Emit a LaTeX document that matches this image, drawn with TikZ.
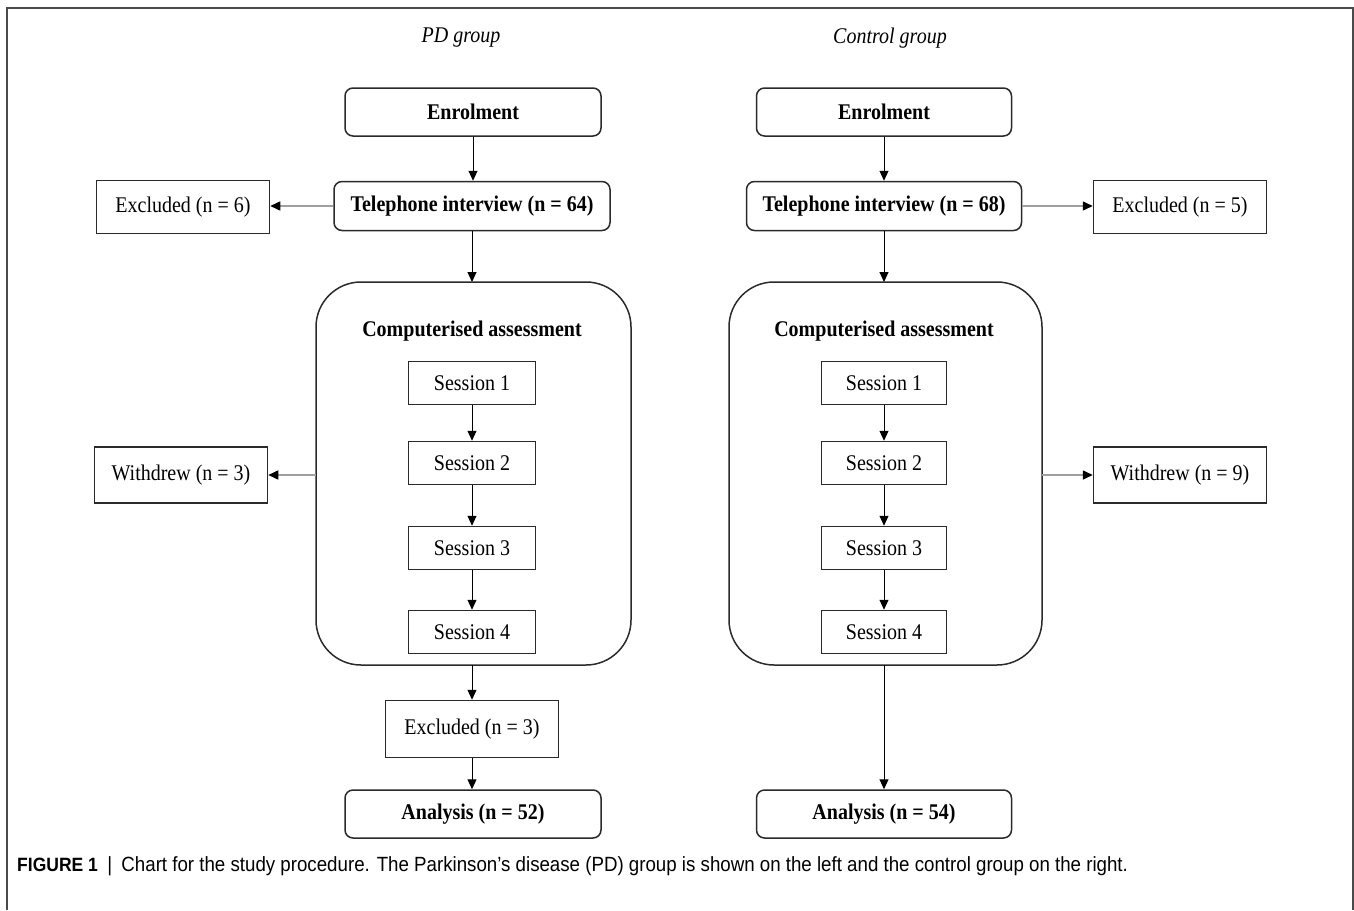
\documentclass[tikz,border=0pt]{standalone}
\usepackage{fontspec}
\usepackage{graphicx}
\setmainfont{Liberation Serif}
\newfontfamily\capfont{Liberation Sans}
\usetikzlibrary{arrows.meta}
\definecolor{boxline}{HTML}{2A2A2A}
\definecolor{sideline}{HTML}{A0A0A0}
\definecolor{framec}{HTML}{4A4A4A}
\newcommand\tl[1]{\scalebox{1}[1.12]{#1}}
\tikzset{
  base/.style={draw=boxline, line width=1.5pt, align=center, inner sep=0pt,
    font=\fontsize{20}{23}\selectfont},
  rbox/.style={base, rounded corners=8pt, font=\fontsize{20}{23}\selectfont\bfseries},
  sbox/.style={base},
  arr/.style={draw=black, line width=1pt, -{Triangle[length=10pt,width=9pt]}},
  sarr/.style={draw=sideline, line width=1.5pt, -{Triangle[length=10pt,width=9pt,color=black]}},
  grp/.style={font=\fontsize{20}{23}\selectfont\itshape},
}
\begin{document}
\begin{tikzpicture}[x=1pt,y=-1pt]
\useasboundingbox (0,0) rectangle (1354,910);
% frame
\draw[framec, line width=2pt] (7,910) -- (7,8) -- (1353,8) -- (1353,910);

% group labels
\node[grp] (pdl) at (461,38) {\tl{PD group}};
\node[grp] (ctl) at (890,38) {\tl{Control group}};

% ---------- PD group ----------
\node[rbox, minimum width=256pt, minimum height=48pt] (enl) at (473,112) {\tl{Enrolment}};
\node[rbox, minimum width=276pt, minimum height=49pt] (tell) at (472,206) {\tl{Telephone interview (n = 64)}};
\node[sbox, minimum width=173pt, minimum height=53pt] (exl) at (183,207) {\tl{Excluded (n = 6)}};
\draw[base, rounded corners=45pt] (316,282) rectangle (631,665);
\coordinate (cal) at (316,475);
\coordinate (cat) at (472,282);
\coordinate (cab) at (472,665);
\node[font=\fontsize{20}{23}\selectfont\bfseries] (catl) at (472,331) {\tl{Computerised assessment}};
\node[sbox, minimum width=127pt, minimum height=43pt] (s1l) at (472,383) {\tl{Session 1}};
\node[sbox, minimum width=127pt, minimum height=43pt] (s2l) at (472,463) {\tl{Session 2}};
\node[sbox, minimum width=127pt, minimum height=43pt] (s3l) at (472,548) {\tl{Session 3}};
\node[sbox, minimum width=127pt, minimum height=43pt] (s4l) at (472,632) {\tl{Session 4}};
\node[sbox, minimum width=173pt, minimum height=56pt] (wdl) at (181,475) {\tl{Withdrew (n = 3)}};
\node[sbox, minimum width=173pt, minimum height=57pt] (ex3) at (472,729) {\tl{Excluded (n = 3)}};
\node[rbox, minimum width=256pt, minimum height=48pt] (anl) at (473,814) {\tl{Analysis (n = 52)}};

\draw[arr] (enl) -- (enl |- tell.north);
\draw[sarr] (tell.west) -- (tell.west -| exl.east);
\draw[arr] (tell) -- (cat);
\draw[arr] (s1l) -- (s2l);
\draw[arr] (s2l) -- (s3l);
\draw[arr] (s3l) -- (s4l);
\draw[sarr] (cal) -- (wdl.east);
\draw[arr] (cab) -- (ex3);
\draw[arr] (ex3) -- (ex3 |- anl.north);

% ---------- Control group ----------
\node[rbox, minimum width=255pt, minimum height=48pt] (enr) at (884,112) {\tl{Enrolment}};
\node[rbox, minimum width=275pt, minimum height=49pt] (telr) at (884,206) {\tl{Telephone interview (n = 68)}};
\node[sbox, minimum width=173pt, minimum height=53pt] (exr) at (1180,207) {\tl{Excluded (n = 5)}};
\draw[base, rounded corners=45pt] (729,282) rectangle (1042,665);
\coordinate (car) at (1042,475);
\coordinate (crt) at (884,282);
\coordinate (crb) at (884,665);
\node[font=\fontsize{20}{23}\selectfont\bfseries] (catr) at (884,331) {\tl{Computerised assessment}};
\node[sbox, minimum width=125pt, minimum height=43pt] (s1r) at (884,383) {\tl{Session 1}};
\node[sbox, minimum width=125pt, minimum height=43pt] (s2r) at (884,463) {\tl{Session 2}};
\node[sbox, minimum width=125pt, minimum height=43pt] (s3r) at (884,548) {\tl{Session 3}};
\node[sbox, minimum width=125pt, minimum height=43pt] (s4r) at (884,632) {\tl{Session 4}};
\node[sbox, minimum width=173pt, minimum height=56pt] (wdr) at (1180,475) {\tl{Withdrew (n = 9)}};
\node[rbox, minimum width=255pt, minimum height=48pt] (anr) at (884,814) {\tl{Analysis (n = 54)}};

\draw[arr] (enr) -- (telr);
\draw[sarr] (telr.east) -- (telr.east -| exr.west);
\draw[arr] (telr) -- (crt);
\draw[arr] (s1r) -- (s2r);
\draw[arr] (s2r) -- (s3r);
\draw[arr] (s3r) -- (s4r);
\draw[sarr] (car) -- (wdr.west);
\draw[arr] (crb) -- (anr);

% caption
\node[anchor=west, inner sep=0pt, font=\capfont\fontsize{18.7}{22}\selectfont] (cap) at (17,866)
  {\scalebox{1}[1.1]{{\fontsize{17.5}{20}\selectfont\bfseries FIGURE 1}\enspace|\enspace Chart for the study procedure. The Parkinson’s disease (PD) group is shown on the left and the control group on the right.}};
\end{tikzpicture}
\end{document}
